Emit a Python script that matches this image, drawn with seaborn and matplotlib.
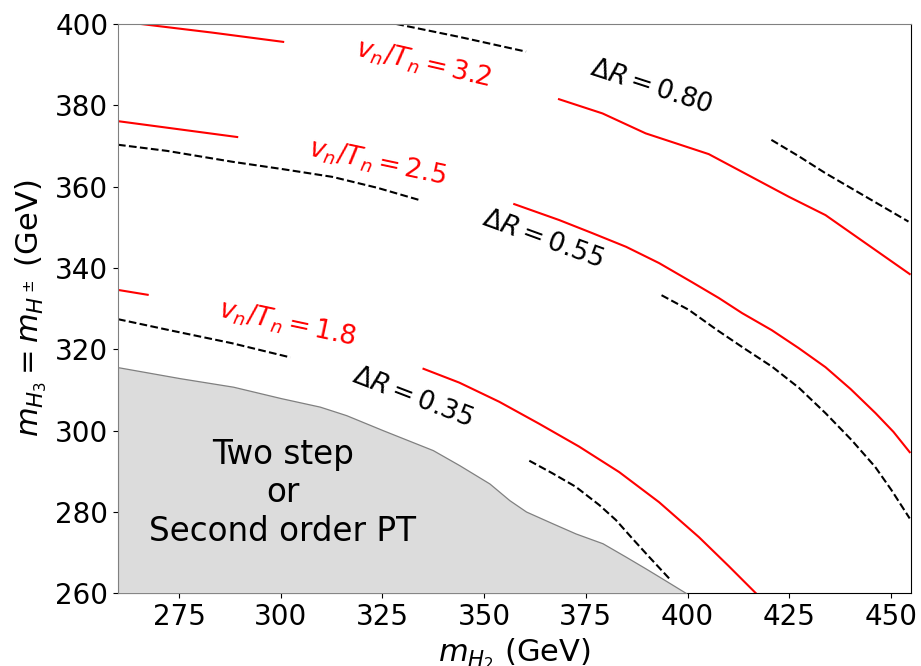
import seaborn as sns
import matplotlib.pyplot as plt

# contour lines, split where the inline labels cut them
RED_32_LEFT_X = [265.6, 283.0, 300.6]
RED_32_LEFT_Y = [400.0, 397.9, 395.6]
RED_32_RIGHT_X = [368.4, 379.1, 389.7, 405.2, 424.9, 433.9, 454.6]
RED_32_RIGHT_Y = [381.5, 378.0, 373.1, 368.0, 357.5, 353.0, 338.5]

RED_25_LEFT_X = [260.0, 289.3]
RED_25_LEFT_Y = [376.1, 372.2]
RED_25_RIGHT_X = [357.4, 368.4, 376.5, 384.9, 393.0, 401.1, 407.7, 413.4,
                  420.7, 427.3, 433.9, 440.1, 446.2, 450.6, 454.6]
RED_25_RIGHT_Y = [355.7, 351.8, 348.6, 345.2, 341.2, 336.5, 332.6, 328.9,
                  324.7, 320.3, 315.6, 310.2, 304.3, 299.7, 294.7]

RED_18_LEFT_X = [260.0, 267.3]
RED_18_LEFT_Y = [334.6, 333.4]
RED_18_RIGHT_X = [335.1, 343.9, 353.7, 363.5, 373.3, 383.2, 393.0, 402.8,
                  410.1, 416.8]
RED_18_RIGHT_Y = [315.2, 311.8, 307.1, 301.7, 296.1, 289.8, 282.4, 273.8,
                  266.7, 260.0]

DR_80_LEFT_X = [328.4, 344.0, 360.3]
DR_80_LEFT_Y = [400.0, 396.8, 393.2]
DR_80_RIGHT_X = [420.6, 427.3, 433.9, 454.3]
DR_80_RIGHT_Y = [371.5, 367.5, 363.3, 351.4]

DR_55_LEFT_X = [260.0, 272.0, 288.2, 300.5, 312.7, 323.8, 334.1]
DR_55_LEFT_Y = [370.3, 368.8, 366.1, 364.3, 362.4, 359.7, 356.7]
DR_55_RIGHT_X = [393.6, 400.3, 407.3, 413.8, 420.8, 427.4, 433.9, 440.3,
                 446.1, 450.1, 454.6]
DR_55_RIGHT_Y = [333.3, 329.7, 324.7, 320.3, 315.7, 310.5, 304.3, 297.7,
                 291.1, 285.4, 278.4]

DR_35_LEFT_X = [260.0, 273.6, 288.0, 302.4]
DR_35_LEFT_Y = [327.4, 324.5, 321.5, 318.0]
DR_35_RIGHT_X = [361.1, 366.8, 372.5, 378.3, 382.4, 386.4, 390.5, 395.8]
DR_35_RIGHT_Y = [292.6, 289.5, 286.2, 281.7, 278.0, 273.5, 269.0, 263.3]

# border of the two-step / second order region
REGION_X = [260.0, 275.2, 288.3, 300.0, 309.6, 316.1, 325.1, 337.4, 343.9,
            351.3, 356.2, 360.3, 366.8, 372.5, 379.1, 384.8, 389.7, 393.0,
            399.7]
REGION_Y = [315.6, 312.9, 310.8, 308.0, 305.9, 303.8, 300.1, 295.2, 291.5,
            287.0, 282.9, 280.1, 277.2, 274.7, 272.3, 269.0, 266.1, 264.1,
            260.0]

RED_LABELS = ['$v_n/T_n = 3.2$', '$v_n/T_n = 2.5$', '$v_n/T_n = 1.8$']
RED_LABEL_POS = [(335.1, 390.2, -13), (323.7, 365.8, -12), (301.6, 326.3, -12)]
DR_LABELS = [r'$\Delta R = 0.80$', r'$\Delta R = 0.55$', r'$\Delta R = 0.35$']
DR_LABEL_POS = [(391.1, 384.4, -18), (364.4, 347.1, -20), (332.5, 308.1, -21)]

XTICKS = [275, 300, 325, 350, 375, 400, 425, 450]
YTICKS = [260, 280, 300, 320, 340, 360, 380, 400]


def drawSegment(ax, xs, ys, color, ls):
  sns.lineplot(x=xs, y=ys, sort=False, estimator=None, color=color,
               linestyle=ls, linewidth=1.5, ax=ax)


fig, ax = plt.subplots(figsize=(9.21, 6.66), dpi=100)
plt.subplots_adjust(left=0.1281, right=0.9895, top=0.964, bottom=0.1092)

ax.fill_between(REGION_X, 260, REGION_Y, facecolor='#dcdcdc',
                edgecolor='gray', linewidth=0.9, zorder=3)

red = [(RED_32_LEFT_X, RED_32_LEFT_Y), (RED_32_RIGHT_X, RED_32_RIGHT_Y),
       (RED_25_LEFT_X, RED_25_LEFT_Y), (RED_25_RIGHT_X, RED_25_RIGHT_Y),
       (RED_18_LEFT_X, RED_18_LEFT_Y), (RED_18_RIGHT_X, RED_18_RIGHT_Y)]
black = [(DR_80_LEFT_X, DR_80_LEFT_Y), (DR_80_RIGHT_X, DR_80_RIGHT_Y),
         (DR_55_LEFT_X, DR_55_LEFT_Y), (DR_55_RIGHT_X, DR_55_RIGHT_Y),
         (DR_35_LEFT_X, DR_35_LEFT_Y), (DR_35_RIGHT_X, DR_35_RIGHT_Y)]
for xs, ys in red:
  drawSegment(ax, xs, ys, 'red', '-')
for xs, ys in black:
  drawSegment(ax, xs, ys, 'black', '--')

for label, (x, y, rot) in zip(RED_LABELS, RED_LABEL_POS):
  ax.text(x, y, label, color='red', fontsize=19, rotation=rot,
          rotation_mode='anchor', ha='center', va='center')
for label, (x, y, rot) in zip(DR_LABELS, DR_LABEL_POS):
  ax.text(x, y, label, color='black', fontsize=19, rotation=rot,
          rotation_mode='anchor', ha='center', va='center')

ax.text(300.5, 284.7, 'Two step\nor\nSecond order PT', fontsize=23.5,
        ha='center', va='center', multialignment='center', zorder=4)

ax.set_xlim(260, 455)
ax.set_ylim(260, 400)
ax.set_xticks(XTICKS)
ax.set_yticks(YTICKS)
ax.tick_params(labelsize=20)
ax.spines['left'].set_color('gray')
ax.spines['top'].set_color('gray')
ax.set_xlabel('$m_{H_2}$ (GeV)', fontsize=22)
ax.set_ylabel(r'$m_{H_3} = m_{H^\pm}$ (GeV)', fontsize=22)

plt.savefig('out.png', dpi=100)
